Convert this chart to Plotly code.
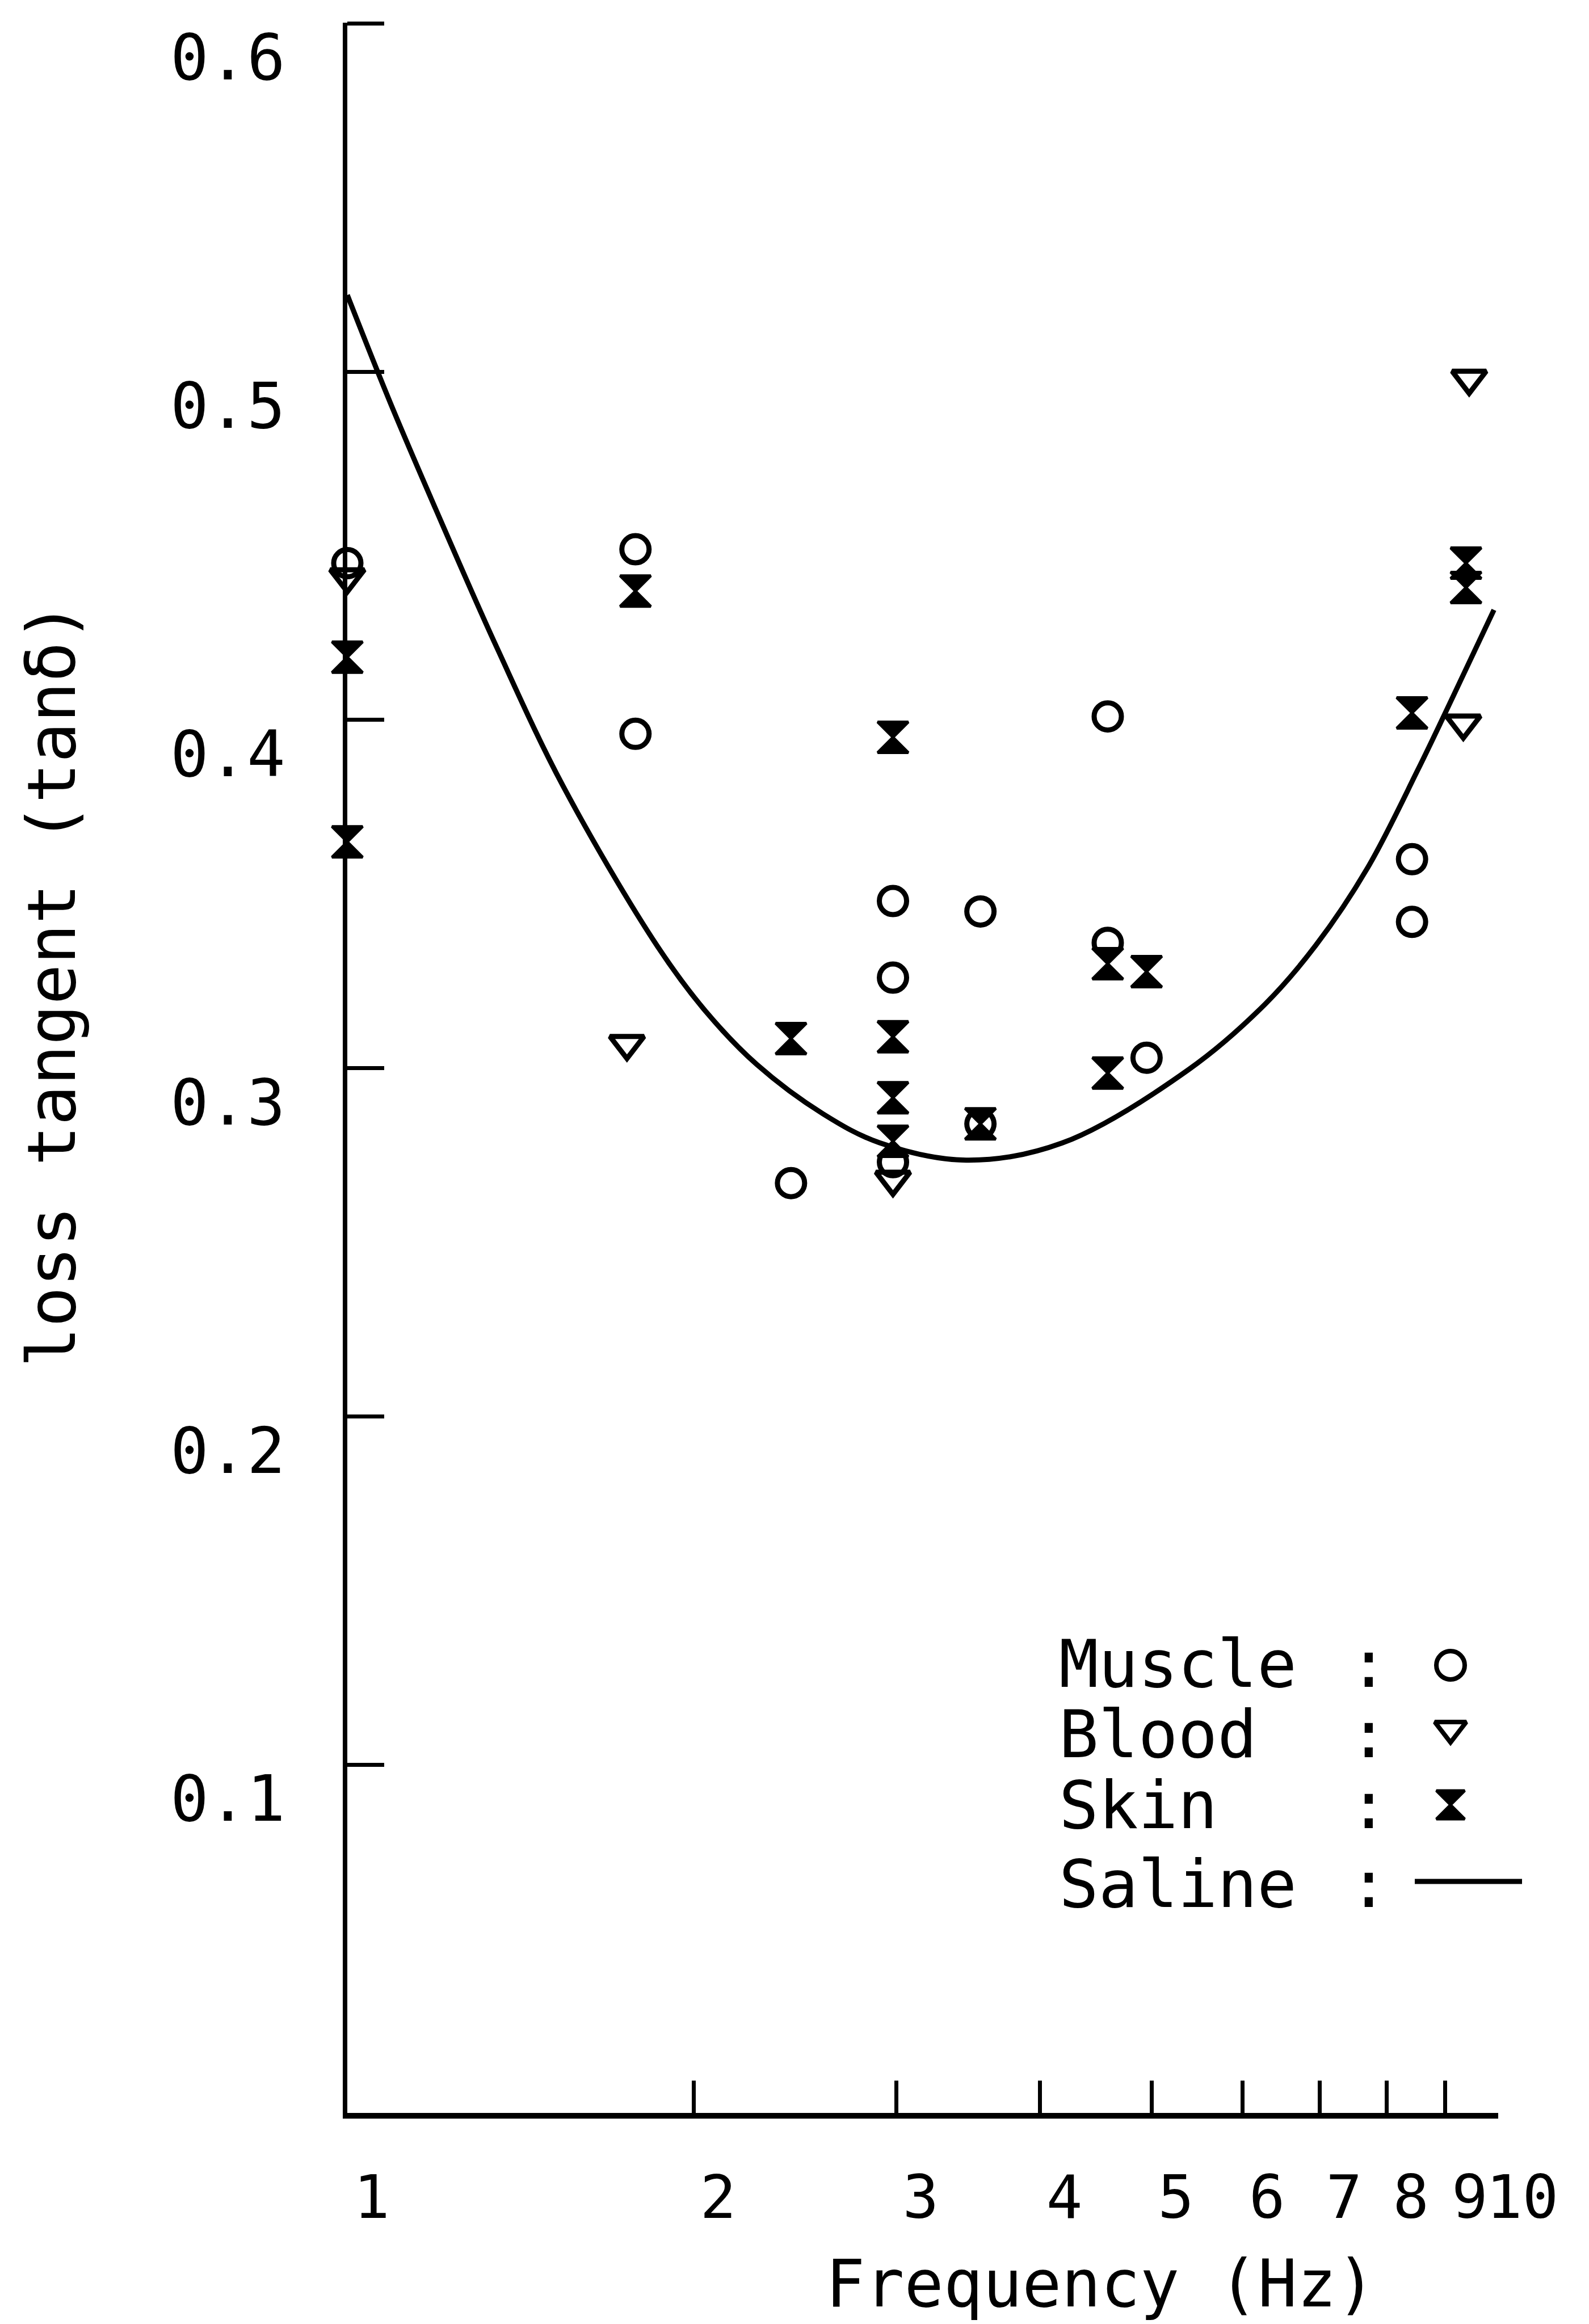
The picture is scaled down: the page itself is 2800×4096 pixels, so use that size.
import plotly.graph_objects as go

# ---- data: loss tangent (tan delta) versus frequency (Hz) ----
muscle_f = [1.00, 1.78, 1.78, 2.43, 2.98, 2.98, 2.98, 3.55, 3.55, 4.58, 4.58, 4.95, 8.42, 8.42]
muscle_tan = [0.445, 0.449, 0.396, 0.267, 0.348, 0.326, 0.273, 0.345, 0.284, 0.401, 0.336, 0.303, 0.360, 0.342]

blood_f = [1.00, 1.75, 2.98, 9.44, 9.33]
blood_tan = [0.441, 0.307, 0.268, 0.498, 0.399]

skin_f = [1.00, 1.00, 1.78, 2.43, 2.98, 2.98, 2.98, 2.98, 3.55, 4.58, 4.58, 4.95, 8.42, 9.38, 9.38]
skin_tan = [0.418, 0.365, 0.437, 0.3085, 0.395, 0.309, 0.2915, 0.279, 0.284, 0.330, 0.2986, 0.3277, 0.402, 0.445, 0.438]

saline_f = [1.00, 1.09, 1.21, 1.35, 1.54, 1.86, 2.05, 2.27, 2.59, 2.90, 3.45, 4.18, 5.39, 6.28, 6.95, 7.70, 8.52, 9.14, 9.92]
saline_tan = [0.522, 0.491, 0.456, 0.4205, 0.381, 0.335, 0.3162, 0.301, 0.2869, 0.2786, 0.2736, 0.2785, 0.2997, 0.3185, 0.3354, 0.3574, 0.3857, 0.4067, 0.4316]

x_ticks = [1, 2, 3, 4, 5, 6, 7, 8, 9, 10]
x_ticktext = ["1", "2", "3", "4", "5", "6", "7", "8", "9", "10"]
y_ticks = [0.1, 0.2, 0.3, 0.4, 0.5, 0.6]
y_ticktext = ["0.1", "0.2", "0.3", "0.4", "0.5", "0.6"]

legend_names = ["Muscle", "Blood", "Skin", "Saline"]

# ---- page geometry (pixels) ----
W, H = 2800, 4096
L, R, T, B = 612, 160, 40, 372
PW, PH = W - L - R, H - T - B
FONT = "DejaVu Sans Mono"
INK = "black"


def px_x(x):
    return (x - L) / PW


def px_y(y):
    return (H - B - y) / PH


fig = go.Figure()

fig.add_trace(go.Scatter(
    x=saline_f, y=saline_tan, mode="lines",
    line=dict(color=INK, width=9, shape="spline", smoothing=1.0),
    cliponaxis=False, showlegend=False, hoverinfo="skip"))

fig.add_trace(go.Scatter(
    x=skin_f, y=skin_tan, mode="markers",
    marker=dict(symbol="hourglass", size=54, color=INK, line=dict(color=INK, width=5)),
    cliponaxis=False, showlegend=False))

fig.add_trace(go.Scatter(
    x=muscle_f, y=muscle_tan, mode="markers",
    marker=dict(symbol="circle-open", size=48, color=INK, line=dict(color=INK, width=9)),
    cliponaxis=False, showlegend=False))

fig.add_trace(go.Scatter(
    x=blood_f, y=blood_tan, mode="markers",
    marker=dict(symbol="triangle-down-open", size=52, color=INK, line=dict(color=INK, width=9)),
    cliponaxis=False, showlegend=False))

# ---- key: names, colons and symbols ----
key_rows_y = [2932, 3056, 3181, 3320]
sym_x = 2556
fig.add_trace(go.Scatter(
    x=[px_x(sym_x)], y=[px_y(2935)], xaxis="x2", yaxis="y2", mode="markers",
    marker=dict(symbol="circle-open", size=50, color=INK, line=dict(color=INK, width=8)),
    cliponaxis=False, showlegend=False, hoverinfo="skip"))
fig.add_trace(go.Scatter(
    x=[px_x(sym_x)], y=[px_y(3047)], xaxis="x2", yaxis="y2", mode="markers",
    marker=dict(symbol="triangle-down-open", size=48, color=INK, line=dict(color=INK, width=8)),
    cliponaxis=False, showlegend=False, hoverinfo="skip"))
fig.add_trace(go.Scatter(
    x=[px_x(sym_x)], y=[px_y(3181)], xaxis="x2", yaxis="y2", mode="markers",
    marker=dict(symbol="hourglass", size=50, color=INK, line=dict(color=INK, width=5)),
    cliponaxis=False, showlegend=False, hoverinfo="skip"))
fig.add_shape(type="line", xref="paper", yref="paper",
              x0=px_x(2493), x1=px_x(2682), y0=px_y(3316), y1=px_y(3316),
              line=dict(color=INK, width=9))

annotations = []
for name, yc in zip(legend_names, key_rows_y):
    annotations.append(dict(text=name, xref="paper", yref="paper",
                            x=px_x(1864), y=px_y(yc), xanchor="left", yanchor="middle",
                            showarrow=False, font=dict(family=FONT, size=116, color=INK)))
    annotations.append(dict(text=":", xref="paper", yref="paper",
                            x=px_x(2412), y=px_y(yc), xanchor="center", yanchor="middle",
                            showarrow=False, font=dict(family=FONT, size=116, color=INK)))

# ---- axis titles ----
annotations.append(dict(text="loss tangent (tanδ)", xref="paper", yref="paper",
                        x=px_x(91), y=px_y(1735), xanchor="center", yanchor="middle",
                        textangle=-90, showarrow=False,
                        font=dict(family=FONT, size=118, color=INK)))
annotations.append(dict(text="Frequency (Hz)", xref="paper", yref="paper",
                        x=px_x(1939), y=px_y(4094), xanchor="center", yanchor="bottom",
                        showarrow=False, font=dict(family=FONT, size=115, color=INK)))

fig.update_layout(
    width=W, height=H,
    margin=dict(l=L, r=R, t=T, b=B, pad=0),
    paper_bgcolor="white", plot_bgcolor="white",
    showlegend=False,
    annotations=annotations,
    xaxis=dict(
        type="log", range=[0, 1.0002],
        tickvals=x_ticks, ticktext=x_ticktext, tickangle=0,
        ticks="inside", ticklen=57, tickwidth=7, tickcolor=INK,
        showline=True, linecolor=INK, linewidth=10,
        showgrid=False, zeroline=False,
        tickfont=dict(family=FONT, size=106, color=INK),
        ticklabelstandoff=48, ticklabelshift=43,
    ),
    yaxis=dict(
        range=[0, 0.6002],
        tickvals=y_ticks, ticktext=y_ticktext,
        ticks="inside", ticklen=65, tickwidth=7, tickcolor=INK,
        showline=True, linecolor=INK, linewidth=8,
        showgrid=False, zeroline=False,
        tickfont=dict(family=FONT, size=112, color=INK),
        ticklabelstandoff=79, ticklabelshift=60,
    ),
    xaxis2=dict(overlaying="x", anchor="y2", range=[0, 1], visible=False),
    yaxis2=dict(overlaying="y", anchor="x2", range=[0, 1], visible=False),
)

fig.write_html("out.html")
